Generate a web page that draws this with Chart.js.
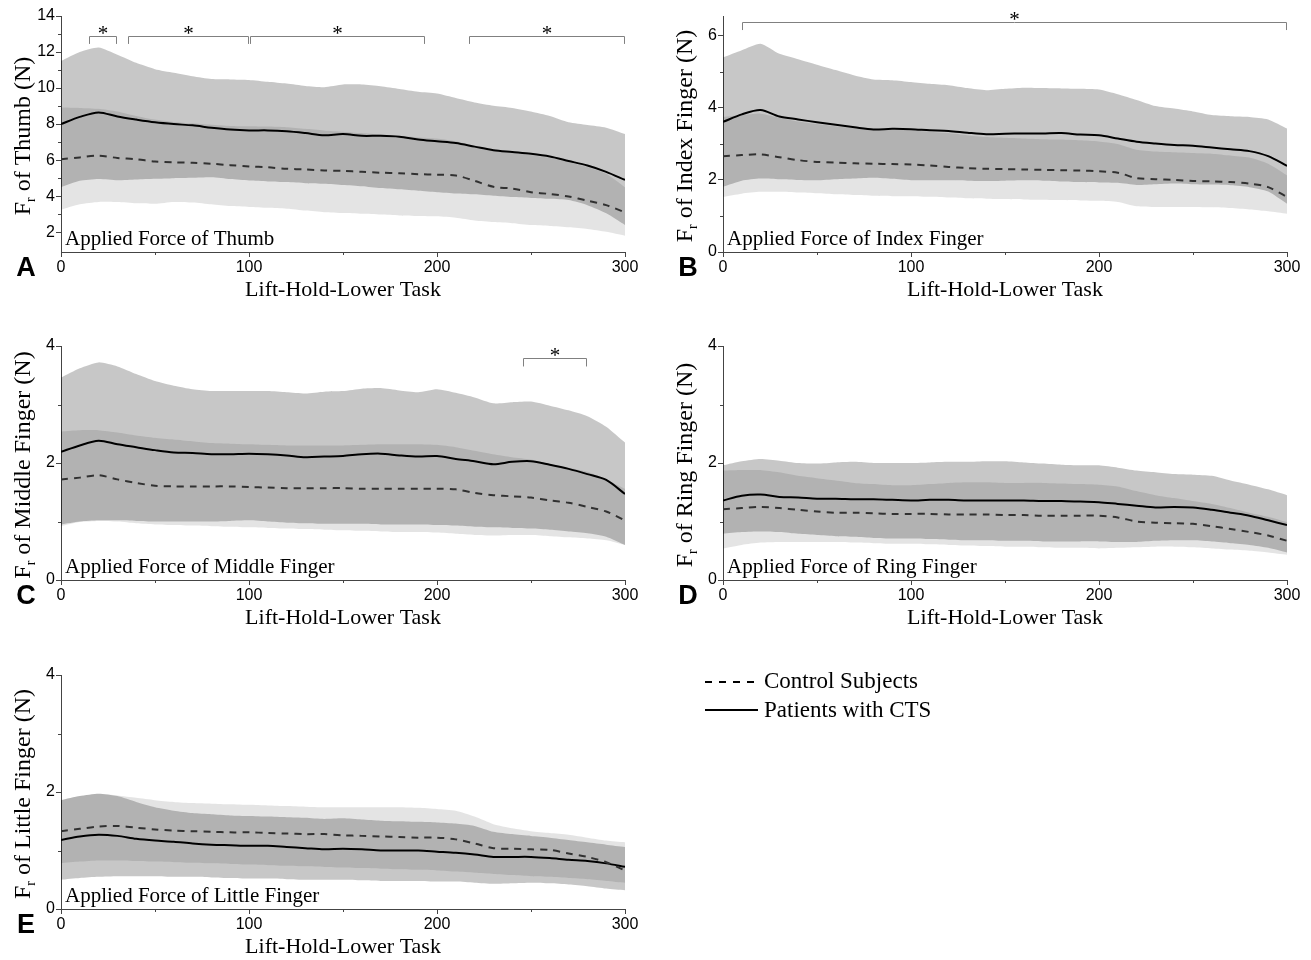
<!DOCTYPE html>
<html lang="en">
<head>
<meta charset="UTF-8">
<title>Applied Force of the Digits</title>
<script src="https://cdn.jsdelivr.net/npm/chart.js"></script>
<style>
    body { margin: 0; background: #fff; }
    #wrap { position: relative; width: 1311px; height: 960px; }
    #wrap canvas { position: absolute; left: 0; top: 0; }
</style>
</head>
<body>
<div id="wrap">
    <canvas id="thumbChart" width="1311" height="960"></canvas>
    <canvas id="indexChart" width="1311" height="960"></canvas>
    <canvas id="middleChart" width="1311" height="960"></canvas>
    <canvas id="ringChart" width="1311" height="960"></canvas>
    <canvas id="littleChart" width="1311" height="960"></canvas>
</div>

<script>
// time points of the lift-hold-lower task
const xValues = [0, 10, 20, 30, 40, 50, 60, 70, 80, 90, 100, 110, 120, 130, 140, 150,
                 160, 170, 180, 190, 200, 210, 220, 230, 240, 250, 260, 270, 280, 290, 300];

// A - thumb
const thumbPatientMean  = [8.0, 8.4, 8.65, 8.42, 8.25, 8.1, 8.0, 7.93, 7.8, 7.7, 7.65, 7.65, 7.6, 7.5, 7.38, 7.45, 7.35, 7.35, 7.3, 7.15, 7.05, 6.95, 6.75, 6.55, 6.45, 6.35, 6.2, 5.95, 5.7, 5.35, 4.9];
const thumbPatientUpper = [11.5, 12.0, 12.25, 11.85, 11.4, 11.05, 10.85, 10.65, 10.5, 10.48, 10.45, 10.35, 10.25, 10.12, 10.05, 10.2, 10.2, 10.1, 9.95, 9.8, 9.7, 9.45, 9.2, 9.02, 8.9, 8.7, 8.45, 8.1, 7.95, 7.8, 7.45];
const thumbPatientLower = [4.5, 4.85, 4.95, 4.88, 4.92, 4.96, 5.0, 5.02, 5.05, 4.95, 4.87, 4.82, 4.78, 4.72, 4.69, 4.62, 4.55, 4.45, 4.38, 4.3, 4.22, 4.15, 4.1, 4.02, 3.95, 3.9, 3.85, 3.78, 3.5, 3.05, 2.4];
const thumbControlMean  = [6.05, 6.15, 6.25, 6.12, 6.05, 5.92, 5.88, 5.85, 5.8, 5.72, 5.65, 5.6, 5.52, 5.48, 5.43, 5.4, 5.35, 5.3, 5.27, 5.22, 5.19, 5.15, 4.85, 4.52, 4.42, 4.22, 4.12, 3.98, 3.75, 3.5, 3.1];
const thumbControlUpper = [8.92, 8.9, 8.85, 8.7, 8.45, 8.25, 8.12, 8.04, 7.96, 7.9, 7.88, 7.86, 7.83, 7.74, 7.65, 7.58, 7.5, 7.42, 7.35, 7.26, 7.2, 7.05, 6.8, 6.6, 6.45, 6.28, 6.12, 5.9, 5.62, 5.25, 4.5];
const thumbControlLower = [3.25, 3.55, 3.68, 3.67, 3.6, 3.58, 3.68, 3.65, 3.55, 3.45, 3.4, 3.35, 3.3, 3.2, 3.11, 3.06, 3.02, 2.98, 2.93, 2.9, 2.88, 2.8, 2.65, 2.56, 2.5, 2.4, 2.35, 2.28, 2.18, 2.02, 1.8];

// B - index finger
const indexPatientMean  = [3.61, 3.82, 3.94, 3.76, 3.68, 3.6, 3.53, 3.46, 3.4, 3.42, 3.41, 3.38, 3.36, 3.31, 3.27, 3.28, 3.29, 3.29, 3.3, 3.26, 3.24, 3.15, 3.06, 3.01, 2.97, 2.95, 2.9, 2.85, 2.8, 2.66, 2.39];
const indexPatientUpper = [5.4, 5.6, 5.78, 5.5, 5.35, 5.2, 5.05, 4.9, 4.79, 4.77, 4.72, 4.67, 4.63, 4.55, 4.49, 4.53, 4.56, 4.55, 4.54, 4.53, 4.51, 4.38, 4.22, 4.05, 3.98, 3.9, 3.8, 3.77, 3.75, 3.68, 3.43];
const indexPatientLower = [1.81, 1.98, 2.04, 2.02, 2.0, 1.99, 2.02, 2.04, 2.06, 2.03, 1.99, 1.99, 1.99, 1.98, 1.97, 1.98, 1.99, 1.98, 1.96, 1.94, 1.93, 1.92, 1.86, 1.88, 1.9, 1.88, 1.87, 1.85, 1.8, 1.68, 1.34];
const indexControlMean  = [2.66, 2.69, 2.71, 2.63, 2.55, 2.5, 2.48, 2.46, 2.45, 2.44, 2.43, 2.4, 2.36, 2.33, 2.31, 2.3, 2.29, 2.28, 2.27, 2.26, 2.24, 2.2, 2.05, 2.02, 2.0, 1.97, 1.96, 1.94, 1.9, 1.8, 1.53];
const indexControlUpper = [3.75, 3.8, 3.84, 3.73, 3.62, 3.55, 3.49, 3.44, 3.42, 3.4, 3.38, 3.34, 3.3, 3.24, 3.19, 3.17, 3.15, 3.13, 3.12, 3.1, 3.07, 3.0, 2.84, 2.79, 2.77, 2.75, 2.73, 2.68, 2.62, 2.45, 2.13];
const indexControlLower = [1.53, 1.62, 1.67, 1.67, 1.65, 1.63, 1.6, 1.58, 1.56, 1.55, 1.55, 1.53, 1.51, 1.49, 1.48, 1.47, 1.46, 1.45, 1.44, 1.43, 1.42, 1.39, 1.27, 1.25, 1.25, 1.25, 1.24, 1.22, 1.18, 1.13, 1.06];

// C - middle finger
const middlePatientMean  = [2.19, 2.3, 2.38, 2.32, 2.27, 2.22, 2.18, 2.17, 2.15, 2.15, 2.16, 2.15, 2.13, 2.1, 2.11, 2.12, 2.15, 2.16, 2.13, 2.11, 2.12, 2.07, 2.03, 1.98, 2.02, 2.03, 1.97, 1.9, 1.81, 1.71, 1.47];
const middlePatientUpper = [3.46, 3.62, 3.72, 3.65, 3.52, 3.4, 3.32, 3.26, 3.23, 3.23, 3.23, 3.23, 3.21, 3.19, 3.22, 3.23, 3.27, 3.28, 3.24, 3.21, 3.26, 3.2, 3.12, 3.02, 3.04, 3.05, 2.98, 2.9, 2.8, 2.62, 2.35];
const middlePatientLower = [0.95, 1.0, 1.02, 1.02, 1.01, 1.0, 1.0, 1.0, 1.0, 1.01, 1.02, 1.0, 0.98, 0.97, 0.96, 0.96, 0.96, 0.95, 0.95, 0.95, 0.94, 0.93, 0.91, 0.9, 0.89, 0.88, 0.86, 0.83, 0.8, 0.74, 0.6];
const middleControlMean  = [1.72, 1.75, 1.79, 1.72, 1.66, 1.61, 1.6, 1.6, 1.6, 1.6, 1.59, 1.58, 1.57, 1.57, 1.57, 1.57, 1.56, 1.56, 1.56, 1.56, 1.56, 1.55, 1.49, 1.45, 1.43, 1.41, 1.36, 1.32, 1.25, 1.17, 1.02];
const middleControlUpper = [2.54, 2.56, 2.56, 2.52, 2.47, 2.43, 2.4, 2.37, 2.34, 2.33, 2.32, 2.31, 2.3, 2.3, 2.3, 2.3, 2.31, 2.32, 2.32, 2.32, 2.31, 2.27, 2.21, 2.15, 2.1, 2.06, 1.98, 1.92, 1.85, 1.72, 1.56];
const middleControlLower = [0.92, 0.99, 1.01, 1.0, 0.97, 0.95, 0.94, 0.93, 0.92, 0.91, 0.9, 0.89, 0.88, 0.87, 0.86, 0.85, 0.84, 0.83, 0.82, 0.82, 0.81, 0.79, 0.77, 0.76, 0.77, 0.77, 0.75, 0.73, 0.71, 0.68, 0.6];

// D - ring finger
const ringPatientMean  = [1.36, 1.44, 1.46, 1.42, 1.41, 1.39, 1.39, 1.38, 1.38, 1.37, 1.36, 1.37, 1.37, 1.36, 1.36, 1.36, 1.36, 1.35, 1.35, 1.34, 1.33, 1.3, 1.27, 1.24, 1.25, 1.24, 1.2, 1.15, 1.1, 1.02, 0.94];
const ringPatientUpper = [1.96, 2.03, 2.07, 2.04, 2.0, 1.99, 2.01, 2.02, 2.0, 2.0, 2.0, 2.01, 2.02, 2.02, 2.03, 2.03, 2.01, 1.99, 1.97, 1.96, 1.96, 1.92, 1.87, 1.84, 1.81, 1.8, 1.78, 1.7, 1.63, 1.55, 1.45];
const ringPatientLower = [0.79, 0.82, 0.83, 0.82, 0.79, 0.77, 0.75, 0.74, 0.72, 0.71, 0.71, 0.7, 0.69, 0.68, 0.68, 0.67, 0.67, 0.66, 0.66, 0.66, 0.66, 0.65, 0.65, 0.67, 0.68, 0.68, 0.66, 0.63, 0.6, 0.55, 0.47];
const ringControlMean  = [1.21, 1.23, 1.25, 1.23, 1.2, 1.17, 1.15, 1.15, 1.14, 1.13, 1.13, 1.13, 1.12, 1.12, 1.12, 1.11, 1.11, 1.1, 1.1, 1.1, 1.1, 1.07, 1.0, 0.98, 0.97, 0.96, 0.92, 0.87, 0.82, 0.76, 0.67];
const ringControlUpper = [1.87, 1.88, 1.88, 1.84, 1.78, 1.74, 1.7, 1.66, 1.64, 1.62, 1.62, 1.64, 1.66, 1.67, 1.67, 1.66, 1.66, 1.66, 1.65, 1.64, 1.63, 1.6, 1.52, 1.45, 1.4, 1.35, 1.3, 1.23, 1.15, 1.08, 0.99];
const ringControlLower = [0.54, 0.6, 0.64, 0.65, 0.65, 0.65, 0.65, 0.64, 0.63, 0.62, 0.62, 0.61, 0.6, 0.59, 0.58, 0.57, 0.57, 0.56, 0.55, 0.55, 0.54, 0.55, 0.56, 0.57, 0.57, 0.56, 0.54, 0.52, 0.5, 0.47, 0.43];

// E - little finger
const littlePatientMean  = [1.18, 1.24, 1.27, 1.25, 1.2, 1.17, 1.15, 1.12, 1.1, 1.09, 1.08, 1.08, 1.06, 1.04, 1.02, 1.03, 1.02, 1.0, 1.0, 1.0, 0.98, 0.96, 0.93, 0.89, 0.89, 0.89, 0.87, 0.84, 0.82, 0.78, 0.72];
const littlePatientUpper = [1.86, 1.93, 1.97, 1.93, 1.83, 1.74, 1.68, 1.64, 1.62, 1.6, 1.59, 1.58, 1.57, 1.56, 1.54, 1.55, 1.53, 1.51, 1.5, 1.49, 1.48, 1.46, 1.42, 1.32, 1.28, 1.25, 1.22, 1.18, 1.14, 1.1, 1.06];
const littlePatientLower = [0.5, 0.53, 0.55, 0.56, 0.56, 0.56, 0.55, 0.55, 0.54, 0.53, 0.52, 0.52, 0.51, 0.5, 0.5, 0.5, 0.49, 0.48, 0.48, 0.48, 0.47, 0.47, 0.45, 0.43, 0.44, 0.45, 0.44, 0.42, 0.39, 0.35, 0.32];
const littleControlMean  = [1.33, 1.37, 1.41, 1.42, 1.39, 1.36, 1.34, 1.33, 1.32, 1.31, 1.31, 1.3, 1.29, 1.28, 1.28, 1.26, 1.25, 1.24, 1.23, 1.22, 1.22, 1.19, 1.12, 1.04, 1.03, 1.02, 1.01, 0.95, 0.89, 0.8, 0.66];
const littleControlUpper = [1.86, 1.93, 1.97, 1.94, 1.9, 1.86, 1.83, 1.81, 1.8, 1.79, 1.78, 1.77, 1.76, 1.75, 1.74, 1.74, 1.74, 1.74, 1.74, 1.73, 1.71, 1.68, 1.58, 1.45, 1.38, 1.33, 1.3, 1.27, 1.22, 1.17, 1.14];
const littleControlLower = [0.78, 0.81, 0.83, 0.83, 0.82, 0.81, 0.8, 0.79, 0.78, 0.77, 0.76, 0.75, 0.74, 0.73, 0.72, 0.71, 0.7, 0.69, 0.68, 0.67, 0.66, 0.64, 0.62, 0.6, 0.58, 0.56, 0.55, 0.53, 0.51, 0.48, 0.45];

// significant differences (x ranges)
const thumbSignificance  = [[15, 30], [35.8, 99.8], [100.7, 193.8], [216.8, 300]];
const indexSignificance  = [[10.2, 300]];
const middleSignificance = [[246, 280]];

const xTicks = [0, 100, 200, 300];
const xMinorTicks = [50, 150, 250];

const SERIF = '"Liberation Serif", "Times New Roman", serif';
const SANS = '"Liberation Sans", Arial, sans-serif';
const patientFill = 'rgba(0, 0, 0, 0.22)';
const controlFill = 'rgba(0, 0, 0, 0.105)';
const axisColor = '#444';

// draws minor ticks, axis titles, panel letters, labels and brackets
const decor = {
    id: 'decor',
    afterDraw(chart, args, o) {
        const ctx = chart.ctx, a = chart.chartArea;
        const xs = chart.scales.x, ys = chart.scales.y;
        ctx.save();

        ctx.strokeStyle = axisColor;
        ctx.lineWidth = 1;
        ctx.beginPath();
        xMinorTicks.forEach(v => {
            const px = Math.round(xs.getPixelForValue(v)) + 0.5;
            ctx.moveTo(px, a.bottom);
            ctx.lineTo(px, a.bottom + 3);
        });
        o.yMinor.forEach(v => {
            const py = Math.round(ys.getPixelForValue(v)) + 0.5;
            ctx.moveTo(a.left, py);
            ctx.lineTo(a.left - 3, py);
        });
        ctx.stroke();

        // significance brackets
        if (o.brackets) {
            ctx.strokeStyle = '#808080';
            const yTop = Math.round(ys.getPixelForValue(o.bracketY[0])) + 0.5;
            const yLeg = ys.getPixelForValue(o.bracketY[1]);
            o.brackets.forEach(([x0, x1]) => {
                const p0 = Math.round(xs.getPixelForValue(x0)) + 0.5;
                const p1 = Math.round(xs.getPixelForValue(x1)) - 0.5;
                ctx.beginPath();
                ctx.moveTo(p0, yLeg);
                ctx.lineTo(p0, yTop);
                ctx.lineTo(p1, yTop);
                ctx.lineTo(p1, yLeg);
                ctx.stroke();
                ctx.fillStyle = '#000';
                ctx.font = '21px ' + SERIF;
                ctx.textAlign = 'center';
                ctx.textBaseline = 'alphabetic';
                ctx.fillText('*', (p0 + p1) / 2, yTop + 3);
            });
        }

        ctx.fillStyle = '#000';
        ctx.textBaseline = 'middle';

        // panel letter
        ctx.font = 'bold 27px ' + SANS;
        ctx.textAlign = 'center';
        ctx.fillText(o.letter, a.left - 35, a.bottom + 17);

        // x title
        ctx.font = '22px ' + SERIF;
        ctx.fillText('Lift-Hold-Lower Task', (a.left + a.right) / 2, a.bottom + 38);

        // label inside the plot
        ctx.font = '21px ' + SERIF;
        ctx.textAlign = 'left';
        ctx.fillText(o.label, a.left + 4, a.bottom - 13);

        // y title with subscript r
        ctx.save();
        ctx.translate(a.left - 39, (a.top + a.bottom) / 2 + 2);
        ctx.rotate(-Math.PI / 2);
        ctx.textBaseline = 'alphabetic';
        ctx.textAlign = 'left';
        const rest = ' of ' + o.yName + ' (N)';
        ctx.font = '24px ' + SERIF;
        const wF = ctx.measureText('F').width;
        const wRest = ctx.measureText(rest).width;
        ctx.font = '14px ' + SERIF;
        const wr = ctx.measureText('r').width;
        let tx = -(wF + wr + wRest) / 2;
        ctx.font = '24px ' + SERIF;
        ctx.fillText('F', tx, 8);
        tx += wF;
        ctx.font = '14px ' + SERIF;
        ctx.fillText('r', tx, 13);
        tx += wr;
        ctx.font = '24px ' + SERIF;
        ctx.fillText(rest, tx, 8);
        ctx.restore();

        // legend
        if (o.legend) {
            ctx.strokeStyle = '#000';
            ctx.lineWidth = 2;
            ctx.beginPath();
            ctx.setLineDash([7, 7]);
            ctx.moveTo(705, 682);
            ctx.lineTo(758, 682);
            ctx.stroke();
            ctx.setLineDash([]);
            ctx.beginPath();
            ctx.moveTo(705, 710);
            ctx.lineTo(758, 710);
            ctx.stroke();
            ctx.font = '23px ' + SERIF;
            ctx.textAlign = 'left';
            ctx.textBaseline = 'middle';
            ctx.fillText('Control Subjects', 764, 682);
            ctx.fillText('Patients with CTS', 764, 711);
        }
        ctx.restore();
    }
};

function makePanel(id, p) {
    const pts = ys => xValues.map((x, i) => ({ x: x, y: ys[i] }));
    const band = (ys, fill, color) => ({
        data: pts(ys), borderWidth: 0, borderColor: 'rgba(0,0,0,0)',
        pointRadius: 0, tension: 0.2, fill: fill, backgroundColor: color
    });
    new Chart(document.getElementById(id), {
        type: 'line',
        data: {
            datasets: [
                band(p.patientLower, false, 'rgba(0,0,0,0)'),
                band(p.patientUpper, 0, patientFill),
                band(p.controlLower, false, 'rgba(0,0,0,0)'),
                band(p.controlUpper, 2, controlFill),
                {
                    label: 'Control Subjects', data: pts(p.controlMean), borderColor: '#474747',
                    borderWidth: 2, borderDash: [7, 6], pointRadius: 0, tension: 0.3, fill: false
                },
                {
                    label: 'Patients with CTS', data: pts(p.patientMean), borderColor: '#000',
                    borderWidth: 2, pointRadius: 0, tension: 0.3, fill: false
                }
            ]
        },
        options: {
            responsive: false,
            animation: false,
            events: [],
            layout: {
                padding: { left: p.area[0] - 60, right: 1311 - p.area[1], top: p.area[2], bottom: 960 - p.area[3] - 30 }
            },
            scales: {
                x: {
                    type: 'linear', min: 0, max: 300,
                    afterFit: s => { s.height = 30; },
                    afterBuildTicks: s => { s.ticks = xTicks.map(v => ({ value: v })); },
                    grid: { drawOnChartArea: false, tickLength: 5, color: axisColor },
                    border: { display: true, color: axisColor },
                    ticks: { color: '#000', font: { family: SANS, size: 16 }, padding: 1, maxRotation: 0 }
                },
                y: {
                    type: 'linear', min: p.yMin, max: p.yMax,
                    afterFit: s => { s.width = 60; },
                    afterBuildTicks: s => { s.ticks = p.yTicks.map(v => ({ value: v })); },
                    grid: { drawOnChartArea: false, tickLength: 5, color: axisColor },
                    border: { display: true, color: axisColor },
                    ticks: { color: '#000', font: { family: SANS, size: 16 }, padding: 1 }
                }
            },
            plugins: {
                legend: { display: false },
                tooltip: { enabled: false },
                decor: {
                    letter: p.letter, yName: p.yName, label: p.label, yMinor: p.yMinor,
                    brackets: p.brackets, bracketY: p.bracketY, legend: p.legend
                }
            }
        },
        plugins: [decor]
    });
}

makePanel('thumbChart', {
    area: [61, 625, 16, 252], yMin: 0.9, yMax: 14,
    yTicks: [2, 4, 6, 8, 10, 12, 14], yMinor: [3, 5, 7, 9, 11, 13],
    letter: 'A', yName: 'Thumb', label: 'Applied Force of Thumb',
    brackets: thumbSignificance, bracketY: [12.9, 12.45],
    patientMean: thumbPatientMean, patientUpper: thumbPatientUpper, patientLower: thumbPatientLower,
    controlMean: thumbControlMean, controlUpper: thumbControlUpper, controlLower: thumbControlLower
});

makePanel('indexChart', {
    area: [723, 1287, 16, 252], yMin: 0, yMax: 6.55,
    yTicks: [0, 2, 4, 6], yMinor: [1, 3, 5],
    letter: 'B', yName: 'Index Finger', label: 'Applied Force of Index Finger',
    brackets: indexSignificance, bracketY: [6.38, 6.16],
    patientMean: indexPatientMean, patientUpper: indexPatientUpper, patientLower: indexPatientLower,
    controlMean: indexControlMean, controlUpper: indexControlUpper, controlLower: indexControlLower
});

makePanel('middleChart', {
    area: [61, 625, 346, 580], yMin: 0, yMax: 4,
    yTicks: [0, 2, 4], yMinor: [1, 3],
    letter: 'C', yName: 'Middle Finger', label: 'Applied Force of Middle Finger',
    brackets: middleSignificance, bracketY: [3.8, 3.65],
    patientMean: middlePatientMean, patientUpper: middlePatientUpper, patientLower: middlePatientLower,
    controlMean: middleControlMean, controlUpper: middleControlUpper, controlLower: middleControlLower
});

makePanel('ringChart', {
    area: [723, 1287, 346, 580], yMin: 0, yMax: 4,
    yTicks: [0, 2, 4], yMinor: [1, 3],
    letter: 'D', yName: 'Ring Finger', label: 'Applied Force of Ring Finger',
    patientMean: ringPatientMean, patientUpper: ringPatientUpper, patientLower: ringPatientLower,
    controlMean: ringControlMean, controlUpper: ringControlUpper, controlLower: ringControlLower
});

makePanel('littleChart', {
    area: [61, 625, 675, 909], yMin: 0, yMax: 4,
    yTicks: [0, 2, 4], yMinor: [1, 3],
    letter: 'E', yName: 'Little Finger', label: 'Applied Force of Little Finger', legend: true,
    patientMean: littlePatientMean, patientUpper: littlePatientUpper, patientLower: littlePatientLower,
    controlMean: littleControlMean, controlUpper: littleControlUpper, controlLower: littleControlLower
});
</script>
</body>
</html>
